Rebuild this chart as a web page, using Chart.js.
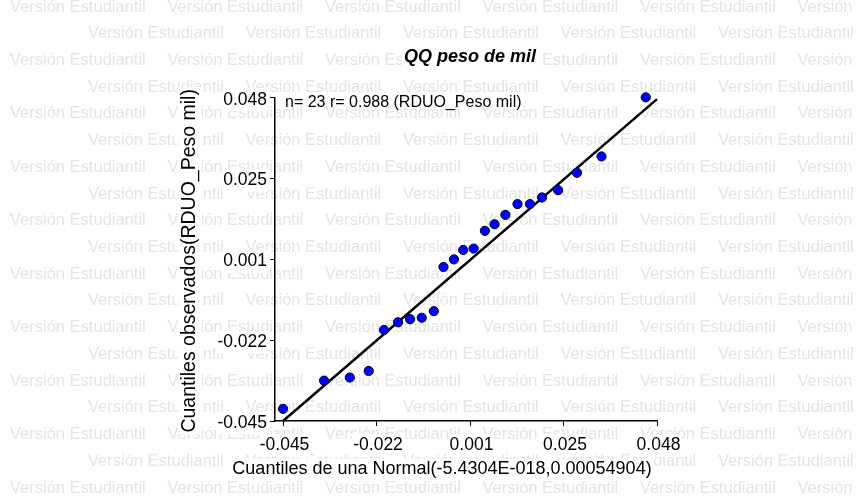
<!DOCTYPE html>
<html lang="es">
<head>
<meta charset="utf-8">
<title>QQ peso de mil</title>
<script src="https://cdn.jsdelivr.net/npm/chart.js@4.4.1/dist/chart.umd.min.js"></script>
<style>
  html, body { margin: 0; padding: 0; background: #fff; }
  #wrap { width: 857px; height: 496px; }
</style>
</head>
<body>
<div id="wrap"><canvas id="qqChart"></canvas></div>
<script>
/* ─────────────────────────────────────────────
   DATA
───────────────────────────────────────────── */
// Cuantiles teóricos de la normal (eje X) y residuos ordenados (eje Y)
const qqTheoretical = [-0.0450, -0.0348, -0.0284, -0.0237, -0.0199, -0.0164, -0.0134, -0.0105,
                       -0.0075, -0.0051, -0.0025, -0.0002, 0.0024, 0.0052, 0.0076, 0.0103,
                       0.0133, 0.0164, 0.0194, 0.0234, 0.0281, 0.0342, 0.0452];
const qqObserved    = [-0.0415, -0.0334, -0.0325, -0.0306, -0.0188, -0.0166, -0.0157, -0.0153,
                       -0.0134, -0.0007, 0.0015, 0.0042, 0.0046, 0.0097, 0.0116, 0.0143,
                       0.0174, 0.0174, 0.0193, 0.0214, 0.0264, 0.0311, 0.0481];

// Recta de referencia
const refLineX = [-0.045, 0.048];
const refLineY = [-0.045, 0.0476];

const xTickLabels = ['-0.045', '-0.022', '0.001', '0.025', '0.048'];
const yTickLabels = ['-0.045', '-0.022', '0.001', '0.025', '0.048'];

const chartTitle = 'QQ peso de mil';
const xTitle     = 'Cuantiles de una Normal(-5.4304E-018,0.00054904)';
const yTitle     = 'Cuantiles observados(RDUO_Peso mil)';
const statsNote  = 'n= 23 r= 0.988 (RDUO_Peso mil)';
const watermark  = 'Versión Estudiantil';

/* ─────────────────────────────────────────────
   HELPERS
───────────────────────────────────────────── */
const FONT = '"Liberation Sans", Arial, sans-serif';

// ticks evenly spaced between first and last label
function evenTicks(labels) {
  const first = parseFloat(labels[0]);
  const last  = parseFloat(labels[labels.length - 1]);
  const step  = (last - first) / (labels.length - 1);
  return labels.map((_, i) => ({ value: first + i * step }));
}

// text with a white box behind it, so the watermark doesn't show through
function drawBacked(ctx, text, font, x, y, rotation) {
  ctx.save();
  ctx.translate(x, y);
  ctx.rotate(rotation || 0);
  ctx.font = font;
  ctx.textAlign = 'center';
  ctx.textBaseline = 'middle';
  const w = ctx.measureText(text).width;
  const h = parseFloat(font.match(/([\d.]+)px/)[1]);
  ctx.fillStyle = '#fff';
  ctx.fillRect(-w / 2 - 2, -h * 0.6, w + 4, h * 1.2);
  ctx.fillStyle = '#000';
  ctx.fillText(text, 0, 0);
  ctx.restore();
}

const studentEdition = {
  id: 'studentEdition',
  beforeDraw(chart) {
    const { ctx, width, height, chartArea: area } = chart;
    ctx.save();
    ctx.fillStyle = '#fff';
    ctx.fillRect(0, 0, width, height);

    // watermark rows, every other row shifted half a step
    ctx.font = '16.5px ' + FONT;
    ctx.fillStyle = '#e4e4e4';
    ctx.textBaseline = 'middle';
    ctx.textAlign = 'left';
    for (let row = 0; 7 + row * 26.72 < height + 10; row++) {
      const y = 7 + row * 26.72;
      for (let x = row % 2 ? 88 : 10; x < width; x += 157.5) ctx.fillText(watermark, x, y);
    }
    ctx.restore();

    const midX = (area.left + area.right) / 2;
    const midY = (area.top + area.bottom) / 2;
    drawBacked(ctx, chartTitle, 'italic bold 18px ' + FONT, midX + 4, area.top - 41);
    drawBacked(ctx, xTitle, '18px ' + FONT, midX - 24, area.bottom + 48.5);
    drawBacked(ctx, yTitle, '19.5px ' + FONT, area.left - 85, midY + 1.5, -Math.PI / 2);

    ctx.save();
    ctx.font = '16px ' + FONT;
    ctx.fillStyle = '#000';
    ctx.textBaseline = 'middle';
    ctx.fillText(statsNote, area.left + 10, area.top + 4.5);
    ctx.restore();
  },
};

const tickFont = { family: FONT, size: 17.5 };
const axisGrid = { drawOnChartArea: false, drawTicks: true, tickLength: 5, color: '#000', lineWidth: 1 };
const axisBorder = { display: true, color: '#000', width: 1.5 };

/* ─────────────────────────────────────────────
   CHART
───────────────────────────────────────────── */
new Chart(document.getElementById('qqChart'), {
  type: 'scatter',
  data: {
    datasets: [
      {
        label: 'RDUO_Peso mil',
        data: qqTheoretical.map((x, i) => ({ x, y: qqObserved[i] })),
        backgroundColor: '#0000ff',
        borderColor: '#000033',
        borderWidth: 1,
        pointRadius: 4.6,
        clip: false,
        order: 0,
      },
      {
        label: 'Recta',
        type: 'line',
        data: refLineX.map((x, i) => ({ x, y: refLineY[i] })),
        borderColor: '#000',
        borderWidth: 2.5,
        pointRadius: 0,
        fill: false,
        clip: false,
        order: 1,
      },
    ],
  },
  options: {
    responsive: true,
    maintainAspectRatio: false,
    animation: false,
    layout: { padding: { top: 97.7, right: 200, bottom: 0, left: 0 } },
    plugins: {
      legend: { display: false },
      title: { display: false },
      tooltip: { enabled: false },
    },
    scales: {
      x: {
        type: 'linear',
        min: -0.047,
        max: 0.048,
        afterBuildTicks: (s) => { s.ticks = evenTicks(xTickLabels); },
        afterFit: (s) => { s.height = 75; },
        ticks: {
          callback: (v, i) => xTickLabels[i],
          font: tickFont, color: '#000', padding: 9, labelOffset: 1.5,
          maxRotation: 0, autoSkip: false,
          showLabelBackdrop: true, backdropColor: '#fff', backdropPadding: 1,
        },
        grid: axisGrid,
        border: axisBorder,
      },
      y: {
        type: 'linear',
        min: -0.045,
        max: 0.048,
        afterBuildTicks: (s) => { s.ticks = evenTicks(yTickLabels); },
        afterFit: (s) => { s.width = 275; },
        ticks: {
          callback: (v, i) => yTickLabels[i],
          font: tickFont, color: '#000', padding: 3, labelOffset: 2,
          autoSkip: false,
          showLabelBackdrop: true, backdropColor: '#fff', backdropPadding: 1,
        },
        grid: axisGrid,
        border: axisBorder,
      },
    },
  },
  plugins: [studentEdition],
});
</script>
</body>
</html>
